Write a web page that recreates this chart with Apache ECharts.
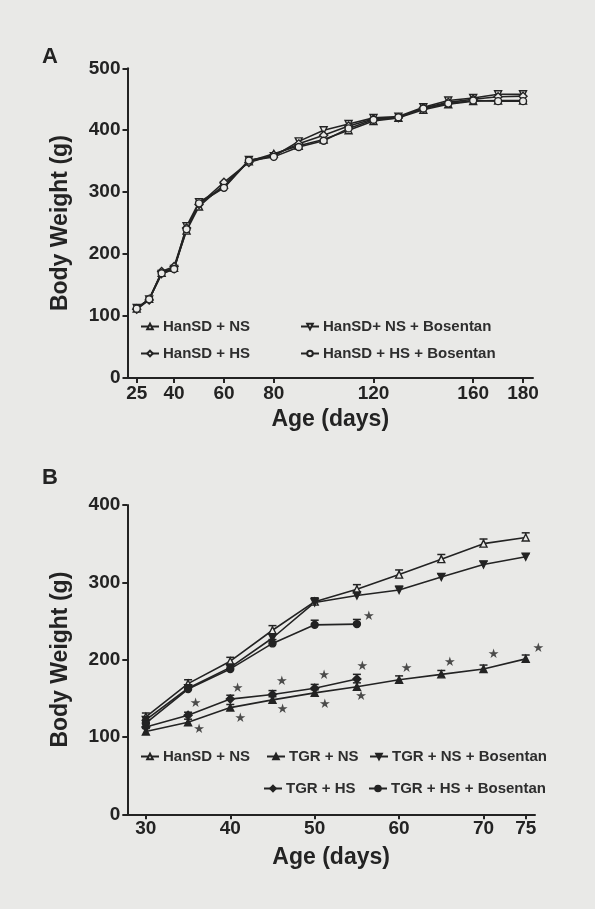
<!DOCTYPE html>
<html>
<head>
<meta charset="utf-8">
<script src="https://cdn.jsdelivr.net/npm/echarts@6/dist/echarts.min.js"></script>
<style>
html,body{margin:0;padding:0;background:#e9e9e7;}
#c{width:595px;height:909px;}
</style>
</head>
<body>
<div id="c"></div>
<script>
// ---------- Panel A data ----------
const agesA = [25,30,35,40,45,50,60,70,80,90,100,110,120,130,140,150,160,170,180];
const hanNS_A      = [112,128,170,178,238,277,312,350,362,375,385,400,415,420,433,442,447,448,448];
const hanNSBos_A   = [113,127,168,176,245,284,308,352,358,382,400,410,420,422,437,448,452,458,458];
const hanHS_A      = [111,126,172,180,242,280,316,348,360,378,392,407,418,420,436,445,450,454,455];
const hanHSBos_A   = [112,127,169,176,240,282,307,351,357,373,383,403,417,421,435,443,448,447,447];
const xTicksA = [25,40,60,80,120,160,180];
const yTicksA = [0,100,200,300,400,500];

// ---------- Panel B data ----------
const agesB = [30,35,40,45,50,55,60,65,70,75];
const agesB_short = [30,35,40,45,50,55];
const hanNS_B     = [126,169,198,238,275,291,310,330,350,358];
const tgrNS_B     = [107,119,138,148,157,165,174,181,188,201];
const tgrNSBos_B  = [122,163,190,228,274,283,290,307,323,333];
const tgrHS_B     = [113,128,149,155,163,175];
const tgrHSBos_B  = [118,162,188,221,245,246];
const hanNS_B_err    = [5,5,5,6,5,6,6,6,6,6];
const tgrNS_B_err    = [4,4,4,4,4,5,5,5,5,5];
const tgrNSBos_B_err = [4,4,4,5,5,5,5,4,4,4];
const tgrHS_B_err    = [4,4,5,5,5,6];
const tgrHSBos_B_err = [4,4,4,5,6,6];
const xTicksB = [30,40,50,60,70,75];
const yTicksB = [0,100,200,300,400];
// significance asterisks [age, weight]
const starsB = [
  [56.4,255.6],[35.9,143.6],[36.3,109],[40.85,163],[41.2,124],[46.1,171.5],[46.2,135.8],
  [51.1,179.3],[51.2,141.4],[55.65,191],[55.5,152],[60.9,188],[66.0,196.6],[71.2,207],[76.5,214.7]
];

const namesA = ['HanSD + NS','HanSD+ NS + Bosentan','HanSD + HS','HanSD + HS + Bosentan'];
const namesB = ['HanSD + NS ','TGR + NS','TGR + NS + Bosentan','TGR + HS','TGR + HS + Bosentan'];

const BG = '#e9e9e7';
const INK = '#232323';
const FONT = '"Liberation Sans", Arial, sans-serif';
const TRI_DOWN = 'path://M0,0 L10,0 L5,9 Z';

function zip(xs, ys){ return xs.map((x,i)=>[x, ys[i]]); }

function lineSeries(name, xs, ys, symbol, filled, axis, size){
  return {
    type:'line', name:name, xAxisIndex:axis, yAxisIndex:axis,
    data: zip(xs, ys), symbol: symbol, symbolSize: size || 7,
    lineStyle:{color:INK, width:1.6},
    itemStyle:{color: filled ? INK : BG, borderColor: INK, borderWidth:1.4},
    emphasis:{disabled:true}, animation:false, z:3
  };
}

function errSeries(xs, ys, errs, axis){
  return {
    type:'custom', xAxisIndex:axis, yAxisIndex:axis, silent:true, animation:false, z:2,
    data: xs.map((x,i)=>[x, ys[i], errs[i]]),
    renderItem: function(params, api){
      const x = api.value(0), y = api.value(1), e = api.value(2);
      const p0 = api.coord([x, y]);
      const p1 = api.coord([x, y + e]);
      return {type:'group', children:[
        {type:'line', shape:{x1:p0[0], y1:p0[1], x2:p1[0], y2:p1[1]}, style:{stroke:INK, lineWidth:1.3}},
        {type:'line', shape:{x1:p1[0]-4, y1:p1[1], x2:p1[0]+4, y2:p1[1]}, style:{stroke:INK, lineWidth:1.5}}
      ]};
    }
  };
}

function legendItem(name, left, top){
  return {
    data:[name], left:left, top:top, orient:'horizontal',
    itemWidth:18, itemHeight:7, itemGap:0, padding:0, selectedMode:false,
    textStyle:{fontFamily:FONT, fontWeight:'bold', fontSize:15, color:'#2e2e2e', padding:[0,0,0,-1]}
  };
}

function xAxisCfg(gridIndex, min, max, ticks, labelMargin, nameGap){
  return {
    type:'value', gridIndex:gridIndex, min:min, max:max,
    name:'Age (days)', nameLocation:'middle', nameGap:nameGap,
    nameTextStyle:{fontFamily:FONT, fontWeight:'bold', fontSize:23, color:INK},
    axisLine:{show:true, lineStyle:{color:INK, width:2}},
    axisTick:{show:true, length:5, lineStyle:{color:INK, width:2}, customValues:ticks},
    axisLabel:{fontFamily:FONT, fontWeight:'bold', fontSize:19, color:INK, margin:labelMargin, customValues:ticks},
    splitLine:{show:false}
  };
}
function yAxisCfg(gridIndex, max, ticks){
  return {
    type:'value', gridIndex:gridIndex, min:0, max:max, interval:100,
    name:'Body Weight (g)', nameLocation:'middle', nameGap:55,
    nameTextStyle:{fontFamily:FONT, fontWeight:'bold', fontSize:23, color:INK},
    axisLine:{show:true, lineStyle:{color:INK, width:2}},
    axisTick:{show:true, length:5, lineStyle:{color:INK, width:2}},
    axisLabel:{fontFamily:FONT, fontWeight:'bold', fontSize:19, color:INK, margin:7},
    splitLine:{show:false}
  };
}

const series = [
  lineSeries(namesA[0], agesA, hanNS_A, 'triangle', false, 0),
  lineSeries(namesA[1], agesA, hanNSBos_A, TRI_DOWN, false, 0),
  lineSeries(namesA[2], agesA, hanHS_A, 'diamond', false, 0, 8),
  lineSeries(namesA[3], agesA, hanHSBos_A, 'circle', false, 0),

  errSeries(agesB, hanNS_B, hanNS_B_err, 1),
  errSeries(agesB, tgrNS_B, tgrNS_B_err, 1),
  errSeries(agesB, tgrNSBos_B, tgrNSBos_B_err, 1),
  errSeries(agesB_short, tgrHS_B, tgrHS_B_err, 1),
  errSeries(agesB_short, tgrHSBos_B, tgrHSBos_B_err, 1),

  lineSeries(namesB[0], agesB, hanNS_B, 'triangle', false, 1),
  lineSeries(namesB[1], agesB, tgrNS_B, 'triangle', true, 1),
  lineSeries(namesB[2], agesB, tgrNSBos_B, TRI_DOWN, true, 1),
  lineSeries(namesB[3], agesB_short, tgrHS_B, 'diamond', true, 1, 8),
  lineSeries(namesB[4], agesB_short, tgrHSBos_B, 'circle', true, 1),

  {
    type:'scatter', xAxisIndex:1, yAxisIndex:1, data:starsB, silent:true, animation:false, clip:false,
    symbol:'circle', symbolSize:2, itemStyle:{color:'rgba(0,0,0,0)'},
    label:{show:true, position:'inside', formatter:'★', fontFamily:'"DejaVu Sans"', fontSize:13, color:INK}
  }
];

const option = {
  backgroundColor: BG,
  animation:false,
  grid:[
    {left:127.5, right:62, top:68.3, bottom:531, containLabel:false},
    {left:127.3, right:60, top:505, bottom:94.7, containLabel:false}
  ],
  xAxis:[
    xAxisCfg(0, 21.3, 184, xTicksA, 6, 30),
    xAxisCfg(1, 27.8, 76.1, xTicksB, 5, 32)
  ],
  yAxis:[
    yAxisCfg(0, 500, yTicksA),
    yAxisCfg(1, 400, yTicksB)
  ],
  legend:[
    legendItem(namesA[0], 140, 319),
    legendItem(namesA[1], 300, 319),
    legendItem(namesA[2], 140, 346),
    legendItem(namesA[3], 300, 346),
    legendItem(namesB[0], 140, 749),
    legendItem(namesB[1], 266, 749),
    legendItem(namesB[2], 369, 749),
    legendItem(namesB[3], 263, 781),
    legendItem(namesB[4], 368, 781)
  ],
  graphic:[
    {type:'text', left:42, top:46, style:{text:'A', font:'bold 22px ' + FONT, fill:INK}},
    {type:'text', left:42, top:467, style:{text:'B', font:'bold 22px ' + FONT, fill:INK}}
  ],
  series: series
};

const chart = echarts.init(document.getElementById('c'), null, {renderer:'canvas'});
chart.setOption(option);
</script>
</body>
</html>
